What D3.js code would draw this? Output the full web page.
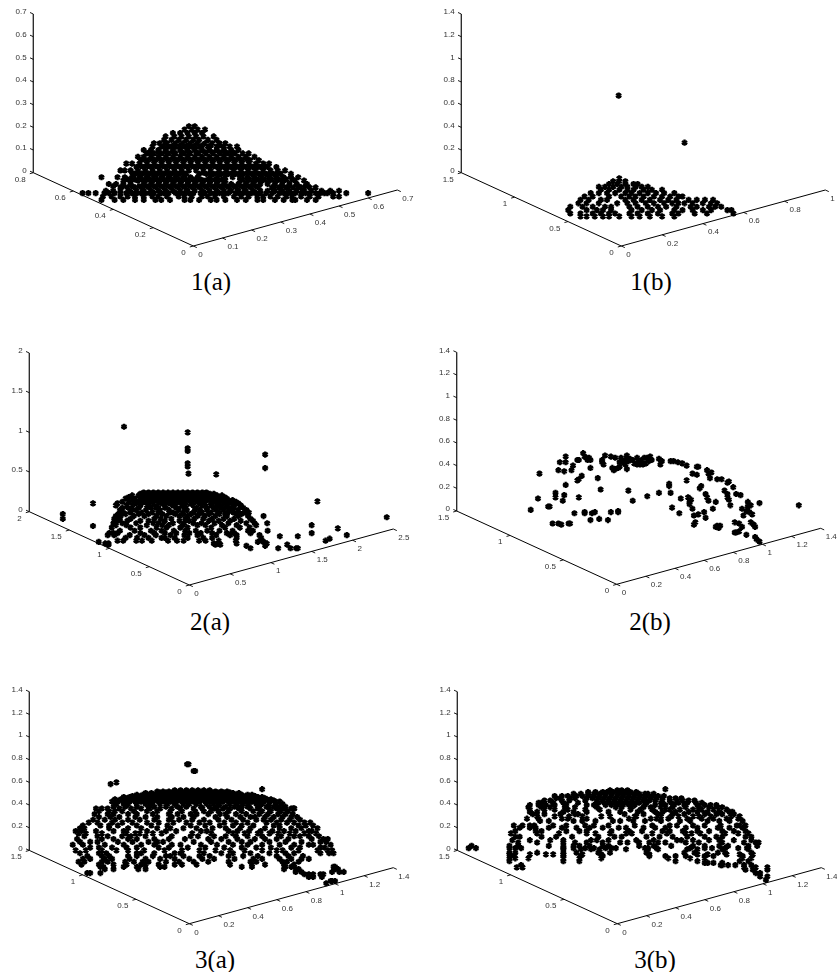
<!DOCTYPE html>
<html>
<head>
<meta charset="utf-8">
<script src="https://cdn.jsdelivr.net/npm/d3@7"></script>
<style>
body{margin:0;background:#fff;}
.tick{font-family:"Liberation Sans",sans-serif;font-size:8px;fill:#333;}
.caption{font-family:"Liberation Serif",serif;font-size:25px;fill:#000;text-anchor:middle;}
</style>
</head>
<body>
<svg id="chart" width="837" height="972"></svg>
<script>
// captions and axis ticks of the six plots
var captions = ["1(a)","1(b)","2(a)","2(b)","3(a)","3(b)"];
var xTicks = [
  [0,0.1,0.2,0.3,0.4,0.5,0.6,0.7],
  [0,0.2,0.4,0.6,0.8,1],
  [0,0.5,1,1.5,2,2.5],
  [0,0.2,0.4,0.6,0.8,1,1.2,1.4],
  [0,0.2,0.4,0.6,0.8,1,1.2,1.4],
  [0,0.2,0.4,0.6,0.8,1,1.2,1.4]];
var yTicks = [
  [0,0.2,0.4,0.6,0.8],
  [0,0.5,1,1.5],
  [0,0.5,1,1.5,2],
  [0,0.5,1,1.5],
  [0,0.5,1,1.5],
  [0,0.5,1,1.5]];
var zTicks = [
  [0,0.1,0.2,0.3,0.4,0.5,0.6,0.7],
  [0,0.2,0.4,0.6,0.8,1,1.2,1.4],
  [0,0.5,1,1.5,2],
  [0,0.2,0.4,0.6,0.8,1,1.2,1.4],
  [0,0.2,0.4,0.6,0.8,1,1.2,1.4],
  [0,0.2,0.4,0.6,0.8,1,1.2,1.4]];

// point readings. each row: z-axis reading first, then the readings along the x axis
var rows1a = [
[.205,-.015,.005],
[.19,-.03,-.005,.015,.04],
[.175,-.07,-.045,-.02,.005,.03],
[.16,-.095,-.065,-.04,-.015,.01,.035,.07],
[.145,-.1,-.075,-.05,-.025,0,.02,.05,.08],
[.13,-.135,-.115,-.09,-.06,-.035,-.01,.015,.04,.065,.09,.11],
[.115,-.14,-.11,-.085,-.06,-.03,-.005,.02,.05,.08,.105,.125,.15],
[.1,-.17,-.145,-.12,-.095,-.07,-.045,-.02,.005,.03,.055,.08,.105,.13,.155],
[.085,-.16,-.135,-.11,-.085,-.06,-.03,-.01,.02,.045,.07,.095,.12,.145,.17,.19],
[.07,-.19,-.17,-.145,-.12,-.095,-.07,-.045,-.02,.005,.03,.055,.08,.105,.13,.155,.18,.21],
[.055,-.18,-.155,-.13,-.105,-.08,-.055,-.03,-.005,.02,.045,.07,.095,.12,.145,.17,.195,.225],
[.04,-.23,-.21,-.185,-.16,-.135,-.11,-.085,-.06,-.035,-.01,.015,.04,.065,.09,.115,.14,.165,.19,.215,.24,.26],
[.025,-.195,-.17,-.145,-.12,-.095,-.07,-.045,-.02,.005,.03,.055,.08,.105,.13,.155,.18,.205,.23,.255,.285],
[.01,-.25,-.235,-.215,-.19,-.165,-.14,-.115,-.09,-.065,-.04,-.015,.01,.035,.06,.09,.115,.14,.165,.19,.215,.24,.265,.29,.315],
[-.005,-.2,-.175,-.15,-.125,-.1,-.075,-.05,-.025,.02,.045,.07,.095,.12,.145,.17,.2,.225,.25,.275,.3,.335],
[-.02,-.315,-.26,-.235,-.21,-.185,-.16,-.135,-.11,-.085,-.06,-.035,-.01,.015,.06,.085,.11,.135,.16,.185,.21,.235,.26,.285,.31,.335,.36],
[-.035,-.24,-.215,-.19,-.165,-.14,-.115,-.09,-.065,-.04,-.015,.01,.035,.06,.085,.11,.16,.185,.21,.235,.26,.285,.31,.35,.38],
[-.05,-.29,-.265,-.24,-.215,-.17,-.145,-.12,-.095,-.07,-.045,-.02,.005,.03,.055,.08,.105,.13,.155,.18,.205,.23,.255,.28,.305,.33,.355,.39],
[-.065,-.25,-.225,-.2,-.175,-.15,-.125,-.1,-.075,-.05,-.025,0,.025,.05,.075,.1,.125,.15,.175,.2,.225,.27,.295,.32,.345,.37,.4,.42],
[-.08,-.3,-.275,-.25,-.22,-.195,-.17,-.145,-.12,-.095,-.07,-.045,-.02,.005,.03,.055,.08,.105,.13,.155,.18,.205,.23,.255,.28,.305,.33,.355,.38,.405,.44,.47,.5],
[-.09,-.38,-.36,-.335,-.305,-.25,-.21,-.18,-.15,-.11,-.085,-.06,-.03,0,.025,.06,.09,.12,.145,.17,.2,.23,.27,.295,.32,.35,.385,.42,.45,.48,.525,.6],
[-.105,-.31,-.28,-.25,-.225,-.2,-.17,-.14,-.12,-.09,-.05,-.03,-.005,.03,.05,.075,.105,.14,.165,.19,.22,.24,.265,.29,.32,.34,.37,.4,.43,.48,.5],
[-.12,-.315,-.27,-.24,-.2,-.17,-.13,-.11,-.08,-.03,-.01,.02,.06,.08,.11,.15,.18,.22,.24,.28,.31,.34,.35,.39,.42],
// the solid middle of the heap
[.12,-.1,-.07,-.045,-.02,.005,.03,.06,.09],
[.09,-.15,-.12,-.095,-.07,-.04,-.015,.01,.04,.065,.09,.11,.135],
[.06,-.17,-.14,-.115,-.09,-.065,-.04,-.015,.01,.035,.06,.085,.11,.135,.16,.185],
[.03,-.18,-.155,-.13,-.105,-.08,-.055,-.03,-.005,.02,.045,.07,.095,.12,.145,.17,.195,.22,.245],
[0,-.21,-.185,-.16,-.135,-.11,-.085,-.06,-.035,.035,.06,.085,.11,.135,.16,.185,.21,.24,.265,.29],
[-.03,-.225,-.2,-.175,-.15,-.125,-.1,-.075,-.05,-.025,0,.025,.05,.075,.1,.17,.195,.22,.245,.27,.295,.32,.34],
[-.06,-.275,-.24,-.21,-.185,-.16,-.135,-.11,-.085,-.06,-.035,-.01,.015,.04,.065,.09,.115,.14,.165,.19,.215,.28,.305,.33,.36,.385],
[-.09,-.29,-.27,-.23,-.195,-.165,-.135,-.1,-.045,-.015,.04,.075,.105,.155,.185,.215,.25,.31,.335,.37,.4,.435,.46]
];
var rows1b = [
[.68,-.013],
[.265,.31],
[-.05,-.01],
[-.075,-.04,-.01,.02],
[-.1,-.06,-.02,.02,.06,.08],
[-.125,-.11,-.08,-.04,0,.03,.07,.1,.13],
[-.15,-.1,-.06,-.01,.03,.06,.11,.15,.2],
[-.18,-.15,-.11,-.07,-.03,.02,.05,.09,.13,.17,.21,.26],
[-.21,-.18,-.14,-.06,0,.04,.07,.11,.16,.2,.24,.28,.3],
[-.24,-.2,-.16,-.1,-.07,.02,.06,.1,.14,.19,.23,.27,.33,.37,.41,.45],
[-.27,-.21,-.17,-.11,-.02,.03,.07,.12,.16,.21,.25,.28,.31,.35,.4,.44,.47],
[-.3,-.25,-.19,-.14,-.08,-.05,.04,.08,.13,.18,.22,.27,.34,.37,.43,.46,.49],
[-.33,-.26,-.17,-.12,-.09,-.05,.05,.1,.15,.19,.26,.3,.35,.4,.44,.52,.54],
[-.36,-.25,-.2,-.14,-.1,-.06,-.03,.04,.08,.13,.18,.25,.28,.36,.42,.55],
[-.385,-.2,-.17,-.13,-.09,-.06,-.01,.05,.09,.14,.2,.26]
];
var rows2a = [
[1.07,-.8],[1,-.02],[.8,-.02],[.765,-.02],[.72,.93],[.61,-.02],[.57,-.02],[.55,.93],[.48,-.01],[.47,.33],
[.24,-.56,-.5,-.44,-.38,-.32,-.26,-.2,-.14,-.08,-.02,.04,.1,.16,.21],
[.225,-.6,-.53,-.47,-.41,-.35,-.29,-.23,-.17,-.11,-.05,.01,.07,.13,.19,.25,.3],
[.205,-.7,-.62,-.56,-.5,-.44,-.38,-.32,-.26,-.2,-.14,-.08,-.02,.04,.1,.16,.22,.28,.34,.4],
[.185,-.74,-.59,-.53,-.47,-.41,-.35,-.29,-.23,-.17,-.11,-.05,.01,.07,.13,.19,.25,.31,.37,.43],
[.165,-.78,-.66,-.58,-.5,-.44,-.38,-.32,-.26,-.2,-.14,-.08,-.02,.04,.1,.16,.22,.28,.34,.4,.46],
[.145,-.69,-.6,-.54,-.46,-.39,-.33,-.25,-.18,-.11,-.04,.02,.08,.14,.2,.27,.33,.4,.47,.53],
[.125,-.82,-.74,-.63,-.55,-.47,-.36,-.28,-.21,-.13,-.06,.03,.1,.17,.3,.37,.43,.5,.57],
[.105,-1.18,-.88,-.66,-.59,-.5,-.43,-.33,-.24,-.17,-.08,.01,.13,.2,.27,.34,.41,.47,.55,.6],
[.08,-.9,-.77,-.7,-.6,-.52,-.38,-.29,-.2,-.1,-.04,.05,.16,.26,.36,.45,.52,.63],
[.05,-.82,-.75,-.62,-.47,-.41,-.3,-.16,-.06,.09,.21,.3,.39,.48,.55,.66],
[.02,-.85,-.7,-.65,-.53,-.36,-.25,-.13,-.03,.07,.13,.22,.33,.42,.5,.6,.7],
[-.01,-.81,-.72,-.58,-.45,-.38,-.24,-.2,-.07,.05,.16,.27,.36,.47,.54,.68,.73],
[-.03,-1.55,-.87,-.78,-.62,-.5,-.33,-.17,-.08,.02,.12,.24,.37,.44,.58,.64],
[-.055,-.9,-.84,-.68,-.55,-.4,-.28,-.12,-.02,.1,.19,.32,.46,.6,.72,.91],
[-.09,-1.55,-.92,-.85,-.72,-.43,-.35,-.22,-.05,.06,.17,.28,.42,.55,.75],
[-.115,-.88,-.76,-.6,-.5,-.3,-.12,0,.24,.36,.5,.63,.78],
[-.145,-.93,-.82,-.65,-.44,-.38,-.2,-.06,.05,.15,.31,.48,.7,.8,.955],
[-.17,-.9,-.77,-.52,-.33,-.25,-.08,.1,.2,.4,.58,.82],
[-.18,-1.18],
[-.17,1.5],
[-.21,1.82],
[-.2,-.95,-.72,-.6,-.4,-.28,-.11,-.02,.27,.44,.62,.74],
[-.24,-.85,-.67,-.47,-.34,-.19,-.05,.08,.22,.37,.53,.72,.78,.96],
[-.27,-.98,-.93,-.88,-.6,-.43,-.3,-.16,0,.14,.28,.46,.55,.75,1.5],
[-.295,-1.0,-.92,-.73,-.55,-.41,-.23,-.06,.1,.33,.5,.58,.86,1.93],
[-.31,1.11,1.33],
[-.33,-.78,-.64,-.5,-.34,-.3,-.18,-.02,.17,.28,.58,.88],
[-.34,1.72],
[-.365,-.88,-.81,-.65,-.58,-.46,-.26,-.15,-.07,.12,.2,.36,.57,.89,1.67],
[-.38,-1.11,.84,.91],
[-.4,-1.03,-.99,.3,.36,.58,.95],
[-.415,-.99,.32,.38,1.2],
[-.43,.7,.93],
[-.46,.75,1.09,1.24,1.31,1.33],
[.13,1.57],
[-.07,2.42],
// the solid top of the dome
[.195,-.57,-.51,-.45,-.39,-.33,-.27,-.21,-.15,-.09,-.03,.03,.09,.15,.21,.27,.33],
[.155,-.57,-.48,-.42,-.36,-.3,-.24,-.18,-.12,-.06,0,.06,.12,.18,.24,.3,.36,.43]
];
var pairs2b = [
[-.59,.01],[-.54,.11],[-.53,.33],[-.46,.04],[-.47,.04],[-.44,-.11],[-.4,-.11],[-.38,-.12],[-.32,-.11],[-.33,-.11],[-.42,.12],[-.42,.16],
[-.39,.43],[-.35,.43],[-.35,.48],[-.4,.36],[-.36,.35],[-.31,.36],[-.3,.4],[-.27,.45],[-.26,.45],[-.23,.51],[-.22,.48],[-.21,.47],[-.19,.47],[-.2,.45],[-.18,.45],
[-.18,.38],[-.24,.31],[-.27,.27],[-.26,.28],[-.35,.23],[-.36,.14],[-.37,.09],[-.26,.12],[-.29,-.02],[-.22,-.02],[-.22,-.01],[-.18,-.08],[-.17,-.02],[-.15,-.01],
[-.12,-.07],[-.06,-.08],[-.04,-.01],[.01,0],[.01,-.01],[-.11,.19],[-.13,.29],[-.1,.45],[-.08,.49],[-.09,.41],[-.1,.43],[-.04,.48],[-.01,.47],[-.03,.38],[-.02,.36],
[-.01,.37],[.01,.38],[.02,.39],[.03,.47],[.07,.49],[.07,.47],[.06,.45],[.04,.43],[.07,.37],[.08,.18],[.11,.09],[.21,.13],[.29,.16],[.36,.22],[.36,.24],[.37,.16],[.44,.11],
[.48,.27],[.49,.12],[.51,.1],[.5,.08],[.38,.03],[.43,-.02],[.5,.06],[.52,.02],[.53,-.04],[.56,-.03],[.6,-.01],[.61,-.06],[.53,-.12],[.54,-.1],[.66,.02],[.68,.08],
[.62,.12],[.61,.15],[.63,.09],[.58,.22],[.57,.2],[.52,.33],[.55,.32],[.55,.39],[.56,.39],[.62,.36],[.65,.34],[.63,.33],[.64,.29],[.69,.28],[.72,.28],[.77,.26],[.76,.25],
[.8,.21],[.74,.18],[.76,.15],[.77,.1],[.78,.05],[.76,.12],[.82,.15],[.85,.14],[.9,.08],[.9,.04],[.92,.05],[.98,.07],[.86,.02],[.89,0],[.91,-.01],[.93,-.03],[.87,-.04],
[.81,-.1],[.84,-.11],[.86,-.14],[.92,-.1],[.94,-.12],[.95,-.14],[.81,-.19],[.82,-.19],[.84,-.18],[.89,-.21],[.95,-.23],[.96,-.25],[.98,-.27],[1.25,.05],
[.69,-.13],[.7,-.15],[.68,-.14],[.71,-.13],[.09,.46],[.11,.45],[.14,.47],[.15,.43],[.17,.45],[.19,.47],[.22,.44],[.24,.45],[.29,.46],[.31,.44],[.37,.44],[.39,.44],[.42,.43],
[.45,.42],[.48,.4],[.14,.41],[.16,.41],[.18,.41],[.23,.48],[.21,.47],[.05,.43],[.06,.41],[.08,.44],[.02,.43],[.3,.41],[.12,.42],[.2,.42]
];
var rows3a = [
[.76,-.015,-.005],[.7,.03,.04],[.6,-.5],[.585,-.54],[.54,.5],
[.53,-.1,-.06,-.02,.02,.06,.1,.14],
[.52,-.22,-.18,-.14,-.1,-.06,-.02,.02,.06,.1,.14,.18,.22,.26],
[.505,-.3,-.26,-.22,-.18,-.14,-.1,-.06,-.02,.02,.06,.1,.14,.18,.22,.26,.3,.34],
[.49,-.36,-.32,-.28,-.24,-.2,-.16,-.12,-.08,-.04,0,.04,.08,.12,.16,.2,.24,.28,.32,.36,.4,.43],
[.47,-.45,-.41,-.37,-.33,-.29,-.25,-.21,-.17,-.13,-.09,-.05,-.01,.03,.07,.11,.15,.19,.23,.27,.31,.35,.39,.43,.47,.5],
[.45,-.51,-.47,-.43,-.39,-.35,-.31,-.27,-.23,-.19,-.15,-.11,-.07,-.03,.01,.05,.09,.13,.17,.21,.25,.29,.33,.37,.41,.45,.49,.53,.56],
[.43,-.53,-.49,-.45,-.41,-.37,-.33,-.29,-.25,-.21,-.17,-.13,-.09,-.05,-.01,.03,.07,.11,.15,.19,.23,.27,.31,.35,.39,.43,.47,.51,.55,.59,.62],
[.41,-.5,-.45,-.42,-.36,-.3,-.26,-.2,-.15,-.1,-.04,0,.05,.12,.17,.21,.28,.33,.37,.41,.46,.5,.55,.6,.64],
[.385,-.52,-.44,-.36,-.28,-.24,-.16,-.08,-.02,.08,.14,.19,.25,.31,.36,.4,.48,.53,.58,.62,.66],
[.37,-.64,-.6,-.56,-.48,-.4,-.33,-.27,-.2,-.12,-.06,.03,.09,.17,.23,.28,.34,.42,.47,.55,.6,.65,.7,.72],
[.345,-.62,-.55,-.51,-.46,-.38,-.29,-.22,-.13,-.05,.04,.1,.15,.2,.27,.36,.44,.5,.56,.63,.68],
[.32,-.65,-.56,-.52,-.42,-.36,-.25,-.14,-.08,.01,.05,.13,.21,.25,.32,.39,.48,.54,.61,.66,.71],
[.295,-.62,-.54,-.48,-.37,-.3,-.22,-.12,-.04,.03,.18,.26,.35,.42,.45,.52,.58,.64,.7,.74],
[.27,-.66,-.58,-.51,-.42,-.34,-.24,-.14,-.07,.02,.1,.2,.29,.37,.46,.51,.56,.63,.69,.76],
[.245,-.69,-.63,-.53,-.46,-.39,-.29,-.21,-.11,-.02,.07,.14,.24,.32,.4,.53,.6,.67,.72,.79,.83],
[.22,-.73,-.61,-.55,-.49,-.36,-.26,-.15,.01,.11,.21,.3,.36,.44,.58,.62,.75,.8,.85],
[.195,-.75,-.72,-.55,-.42,-.33,-.22,-.13,-.04,.05,.16,.25,.35,.42,.52,.62,.7,.77,.88],
[.17,-.78,-.74,-.64,-.52,-.45,-.29,-.16,-.09,.08,.12,.27,.33,.41,.49,.57,.65,.73,.82,.84],
[.15,-.76,-.71,-.6,-.43,-.37,-.34,-.25,-.19,.02,.15,.3,.38,.47,.55,.61,.69,.79,.87],
[.125,-.72,-.63,-.56,-.46,-.4,-.3,-.12,.01,.06,.17,.25,.32,.4,.5,.63,.72,.76,.82,.89],
[.1,-.77,-.6,-.52,-.42,-.36,-.24,-.14,-.03,.13,.22,.33,.45,.52,.6,.68,.84,.92,.95],
[.075,-.75,-.68,-.63,-.49,-.39,-.28,-.22,-.18,.03,.15,.27,.36,.42,.55,.66,.77,.9,.94],
[.05,-.8,-.73,-.58,-.45,-.33,-.24,-.12,-.06,.08,.19,.3,.4,.5,.62,.72,.82,.85,.97],
[.025,-.68,-.62,-.53,-.43,-.36,-.21,-.14,-.01,.11,.24,.36,.46,.56,.7,.76,.9,.93],
[0,-.78,-.71,-.6,-.5,-.42,-.31,-.17,-.05,.07,.18,.28,.38,.5,.6,.64,.75,.88,.95,.98],
[-.025,-.75,-.62,-.57,-.36,-.33,-.24,-.1,-.06,.1,.22,.3,.42,.55,.66,.72,.9,.96,.99],
[-.05,-.7,-.6,-.55,-.42,-.36,-.25,-.16,-.13,-.04,.07,.14,.27,.37,.47,.6,.68,.78],
[-.075,-.73,-.68,-.58,-.53,-.41,-.3,-.2,-.1,.0,.09,.17,.31,.44,.5,.62,.7,.77,.82],
[-.1,-.76,-.72,-.6,-.56,-.44,-.38,-.32,-.28,-.16,-.07,.03,.13,.27,.42,.46,.64,.67,.75],
[-.125,-.74,-.62,-.52,-.43,-.33,-.3,-.21,-.1,-.05,.05,.28,.43,.52,.65,.72],
[-.145,-.61,-.59,-.45,-.36,-.2,-.17,.36,.43,.66,.7,.99,1.0],
[-.165,-.58,-.52,-.35,-.3,.65,.73,.75,1.0,1.02],
[-.19,.73,.77,.98,1.03,1.06],
[-.2,-.7,-.68,-.61],
[-.21,.79,.82,.85,.9,.92],
[-.235,.91,.85,.82],
[-.27,.98,.97,1],
[-.29,.94],
[.37,.71,.72],
// the solid cap
[.51,-.2,-.16,-.12,-.08,-.04,0,.04,.08,.12,.16,.2,.24,.28],
[.48,-.39,-.35,-.31,-.27,-.23,-.19,-.15,-.11,-.07,-.03,.01,.05,.09,.13,.17,.21,.25,.29,.33,.37,.41,.45],
[.46,-.43,-.39,-.35,-.31,-.27,-.23,-.19,-.15,-.11,-.07,-.03,.01,.05,.09,.13,.17,.21,.25,.29,.33,.37,.41,.45,.49,.52],
[.44,-.45,-.41,-.37,-.33,-.29,-.25,-.21,-.17,-.13,-.09,-.05,-.01,.03,.07,.11,.15,.19,.23,.27,.31,.35,.39,.43,.47,.51,.55,.58]
];
var rows3b = [
[.54,.33],[.51,.02,.05],
[.53,-.05,0,.03,.07],
[.515,-.2,-.15,-.1,-.07,-.03,.01,.05,.09,.13],
[.5,-.3,-.25,-.2,-.16,-.12,-.08,-.04,0,.04,.08,.12,.15,.19,.21,.25],
[.48,-.43,-.38,-.34,-.28,-.24,-.2,-.16,-.12,-.08,-.04,0,.04,.08,.12,.16,.2,.24,.28,.32],
[.46,-.42,-.39,-.32,-.29,-.21,-.17,-.13,-.09,-.05,-.01,.03,.07,.11,.15,.19,.23,.27,.31,.36,.4,.44],
[.44,-.5,-.46,-.38,-.33,-.22,-.14,-.1,-.06,-.02,.02,.06,.1,.14,.18,.22,.26,.31,.36,.41,.45,.49,.53],
[.42,-.54,-.52,-.44,-.37,-.27,-.13,-.09,-.05,-.01,.03,.07,.11,.15,.2,.3,.37,.42,.48,.54,.58],
[.4,-.6,-.54,-.49,-.43,-.35,-.21,-.16,-.08,-.04,0,.04,.08,.12,.19,.26,.33,.39,.46,.55,.6,.64,.68],
[.38,-.61,-.52,-.46,-.36,-.29,-.14,-.01,.03,.1,.18,.23,.3,.38,.47,.56,.63,.69,.72],
[.36,-.6,-.5,-.43,-.34,-.22,-.12,.09,.16,.24,.33,.36,.43,.52,.58,.66,.75],
[.34,-.6,-.55,-.37,-.3,-.21,-.06,.02,.14,.26,.31,.4,.49,.55,.62,.7,.77,.79],
[.32,-.58,-.5,-.39,-.29,-.27,.05,.18,.28,.38,.46,.6,.68,.72,.8],
[.3,-.55,-.43,-.33,-.24,-.11,-.05,.12,.13,.3,.37,.42,.52,.56,.64,.78,.84],
[.28,-.62,-.54,-.38,-.34,-.21,.08,.23,.27,.35,.48,.58,.66,.75,.83],
[.26,-.53,-.47,-.3,-.24,-.15,-.03,.02,.11,.19,.3,.43,.5,.62,.7,.77,.86],
[.22,-.71,-.65,-.6,-.57,-.44,-.35,-.22,-.16,-.06,.12,.24,.36,.41,.52,.6,.71,.82,.84,.88],
[.2,-.67,-.6,-.56,-.47,-.38,-.28,-.19,-.1,.01,.06,.18,.26,.33,.47,.55,.69,.77,.86],
[.17,-.7,-.56,-.52,-.35,-.26,-.21,-.04,.08,.17,.31,.36,.45,.55,.63,.72,.8,.88],
[.15,-.73,-.55,-.4,-.21,-.15,-.05,.06,.1,.24,.34,.47,.51,.57,.74,.83,.9],
[.12,-.7,-.67,-.52,-.42,-.31,-.13,-.02,.03,.2,.29,.38,.48,.6,.68,.72,.88,.92],
[.09,-.72,-.6,-.46,-.37,-.18,-.14,-.06,.13,.25,.41,.44,.52,.63,.7,.8,.92],
[.07,-.68,-.55,-.37,-.29,-.21,-.1,.02,.07,.15,.22,.28,.33,.47,.56,.72,.87,.95,.97],
[.04,-1,-.74,-.68,-.47,-.37,-.3,-.26,-.19,-.1,-.06,.15,.25,.37,.52,.6,.7,.76,.9,.96],
[.02,-1.02,-.97,-.74,-.7,-.66,-.37,-.3,-.22,-.16,-.08,-.04,-.01,.19,.21,.27,.5,.6,.65,.74,.83,.89],
[.01,-.37,-.25,-.18,-.12,.06,.21,.28,.48,.55,.72,.9],
[-.02,-.74,-.7,-.55,-.37,-.28,-.13,-.05,.2,.46,.53,.69,.74,.92],
[-.035,-.74,-.6,-.49,-.44,-.37,-.24,-.11,.22,.55,.62,.75,.84,.93],
[-.05,-.73,-.71,-.37,-.25,-.1,.22,.33,.4,.47,.6,.66,.86],
[-.07,-.74,-.7,-.61,-.37,-.26,-.11,.35,.5,.6,.86,.92],
[-.095,-.74,-.37,-.26,.4,.55,.84,.9],
[-.11,.6,.62,.66,.72],
[-.13,-.66,.71,.72,.76,.81,.87,.92],
[-.15,-.69,-.65,.87,.95,1.03],
[-.17,.88,.93,1.03],
[-.2,.95,.98],
[-.23,.98,1.03],
[-.26,1.02]
];

var frontX = [193.3,621.3,189.3,616.7,189.3,617.3];
var frontY = [246,246,585,584.3,923.7,923.7];
var captionX = [211,651,210,650,215,655];
var captionY = [290,290,630,630,968,968];

function toPairs(rows){
  return rows.flatMap(function(r){
    return r.slice(1).map(function(h){ return [h,r[0]]; });
  });
}
var points = [toPairs(rows1a),toPairs(rows1b),toPairs(rows2a),pairs2b,toPairs(rows3a),toPairs(rows3b)];

var svg = d3.select("#chart");
var defs = svg.append("defs");
defs.append("filter").attr("id","soft")
  .attr("x","-5%").attr("y","-5%").attr("width","110%").attr("height","110%")
  .append("feGaussianBlur").attr("stdDeviation",0.45);

var star = d3.symbol().type(d3.symbolAsterisk).size(26);

captions.forEach(function(name,i){
  var g = svg.append("g").attr("filter","url(#soft)");
  var fx = frontX[i], fy = frontY[i];
  var xs = d3.scaleLinear().domain(d3.extent(xTicks[i])).range([0,1]);
  var ys = d3.scaleLinear().domain(d3.extent(yTicks[i])).range([0,1]);
  var zs = d3.scaleLinear().domain(d3.extent(zTicks[i])).range([fy-73.3,fy-232]);
  // the points are read against the x axis (across) and the z axis (up)
  var across = d3.scaleLinear().domain(d3.extent(xTicks[i])).range([fx,fx+204]);

  var xPos = function(x){ return [fx+204*xs(x), fy-56*xs(x)]; };
  var yPos = function(y){ return [fx-160*ys(y), fy-73.3*ys(y)]; };
  var backX = fx-160;

  function seg(p,q,w,color){
    g.append("line").attr("x1",p[0]).attr("y1",p[1]).attr("x2",q[0]).attr("y2",q[1])
      .attr("stroke",color||"#000").attr("stroke-width",w);
  }
  seg(xPos(xs.domain()[0]),xPos(xs.domain()[1]),1);
  seg(yPos(ys.domain()[0]),yPos(ys.domain()[1]),1);
  seg([backX,zs.range()[0]],[backX,zs.range()[1]],1.3,"#222");

  xTicks[i].forEach(function(t){
    var p = xPos(t);
    seg(p,[p[0]+3.5,p[1]+1.6],0.9);
    g.append("text").attr("class","tick").attr("x",p[0]+5).attr("y",p[1]+10.8).text(t);
  });
  yTicks[i].forEach(function(t){
    var p = yPos(t);
    seg(p,[p[0]-3.5,p[1]+1],0.9);
    g.append("text").attr("class","tick").attr("text-anchor","end")
      .attr("x",p[0]-7.5).attr("y",p[1]+9).text(t);
  });
  zTicks[i].forEach(function(t){
    var y = zs(t);
    seg([backX,y],[backX-3.3,y-1.5],0.9);
    g.append("text").attr("class","tick").attr("text-anchor","end")
      .attr("x",backX-6.7).attr("y",y+0.3).text(t);
  });

  g.selectAll("path.pt").data(points[i]).enter().append("path")
    .attr("class","pt")
    .attr("d",star)
    .attr("transform",function(d){ return "translate("+across(d[0])+","+zs(d[1])+")"; })
    .attr("fill","none").attr("stroke","#000").attr("stroke-width",2.3);

  svg.append("text").attr("class","caption")
    .attr("x",captionX[i]).attr("y",captionY[i]).text(name);
});
</script>
</body>
</html>
